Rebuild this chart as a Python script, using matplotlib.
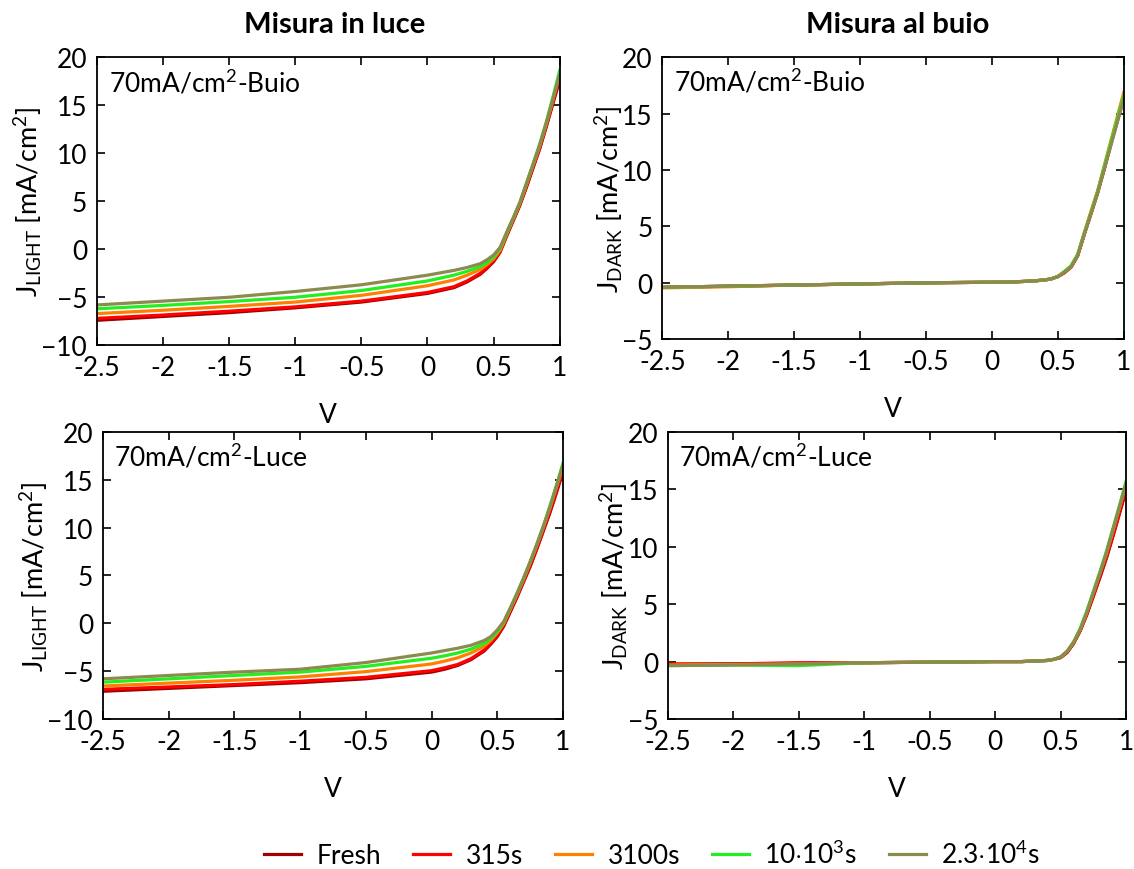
import matplotlib
matplotlib.use("Agg")
import matplotlib.pyplot as plt

plt.rcParams['font.family'] = ['Lato', 'DejaVu Sans']
plt.rcParams['mathtext.fontset'] = 'custom'
plt.rcParams['mathtext.rm'] = 'Lato'
plt.rcParams['mathtext.it'] = 'Lato'

# voltage grid (V)
V = [-2.5, -2.0, -1.5, -1.0, -0.5, 0.0, 0.1, 0.2, 0.3, 0.4, 0.45, 0.5,
     0.55, 0.6, 0.65, 0.7, 0.75, 0.8, 0.85, 0.9, 0.95, 1.0]

labels = ['Fresh', '315s', '3100s', r'10$\cdot$10$^3$s', r'2.3$\cdot$10$^4$s']
colors = ['#a00000', '#ff0000', '#ff8000', '#22ee22', '#8c8a4e']

# misura in luce, 70mA/cm2 - Buio
light_buio = [
    [-7.4, -7.0, -6.6, -6.1, -5.5, -4.6, -4.3, -4.0, -3.4, -2.6, -2.0, -1.3, -0.3, 1.4, 3.0, 4.6, 6.5, 8.5, 10.5, 12.8, 15.2, 17.6],
    [-7.2, -6.85, -6.45, -6.0, -5.4, -4.5, -4.2, -3.9, -3.3, -2.5, -1.9, -1.2, -0.2, 1.5, 3.1, 4.7, 6.6, 8.6, 10.6, 12.9, 15.4, 18.0],
    [-6.7, -6.35, -5.95, -5.5, -4.8, -3.8, -3.5, -3.2, -2.7, -2.1, -1.6, -1.0, -0.1, 1.6, 3.2, 4.8, 6.8, 8.8, 10.8, 13.1, 15.6, 18.3],
    [-6.2, -5.85, -5.45, -5.0, -4.3, -3.3, -3.0, -2.7, -2.3, -1.8, -1.4, -0.8, 0.1, 1.7, 3.3, 4.9, 6.9, 8.9, 11.0, 13.3, 15.9, 18.6],
    [-5.8, -5.4, -5.0, -4.4, -3.7, -2.7, -2.45, -2.2, -1.9, -1.5, -1.1, -0.6, 0.2, 1.8, 3.3, 4.9, 6.9, 8.9, 10.9, 13.2, 15.7, 18.2],
]

# misura in luce, 70mA/cm2 - Luce
light_luce = [
    [-7.1, -6.8, -6.5, -6.2, -5.8, -5.1, -4.8, -4.4, -3.8, -2.9, -2.2, -1.4, -0.3, 1.2, 2.7, 4.3, 5.9, 7.7, 9.6, 11.5, 13.6, 15.8],
    [-6.9, -6.65, -6.4, -6.05, -5.65, -4.95, -4.65, -4.3, -3.7, -2.8, -2.1, -1.3, -0.2, 1.3, 2.8, 4.4, 6.0, 7.8, 9.7, 11.7, 13.8, 16.0],
    [-6.55, -6.25, -5.95, -5.6, -5.05, -4.25, -3.95, -3.6, -3.1, -2.4, -1.8, -1.0, 0.0, 1.5, 3.0, 4.6, 6.3, 8.1, 10.0, 12.0, 14.2, 16.4],
    [-6.15, -5.8, -5.45, -5.1, -4.5, -3.65, -3.4, -3.1, -2.7, -2.1, -1.6, -0.9, 0.1, 1.6, 3.1, 4.7, 6.4, 8.2, 10.1, 12.2, 14.4, 16.7],
    [-5.8, -5.45, -5.1, -4.8, -4.1, -3.1, -2.85, -2.6, -2.3, -1.8, -1.4, -0.7, 0.2, 1.6, 3.1, 4.7, 6.4, 8.2, 10.1, 12.1, 14.3, 16.5],
]

# misura al buio, 70mA/cm2 - Buio
dark_buio = [
    [-0.4, -0.3, -0.2, -0.1, 0.0, 0.05, 0.05, 0.1, 0.15, 0.25, 0.35, 0.55, 0.9, 1.4, 2.4, 4.3, 6.1, 7.9, 10.0, 12.2, 14.3, 16.4],
    [-0.4, -0.3, -0.2, -0.1, 0.0, 0.05, 0.05, 0.1, 0.15, 0.25, 0.35, 0.55, 0.9, 1.4, 2.4, 4.3, 6.1, 8.0, 10.1, 12.3, 14.4, 16.5],
    [-0.45, -0.35, -0.2, -0.1, 0.0, 0.05, 0.05, 0.1, 0.15, 0.25, 0.35, 0.55, 1.0, 1.5, 2.5, 4.4, 6.3, 8.1, 10.3, 12.5, 14.7, 16.9],
    [-0.4, -0.3, -0.2, -0.1, 0.0, 0.05, 0.05, 0.1, 0.15, 0.25, 0.35, 0.55, 1.0, 1.5, 2.5, 4.4, 6.2, 8.0, 10.2, 12.4, 14.5, 16.6],
    [-0.4, -0.3, -0.2, -0.1, 0.0, 0.05, 0.05, 0.1, 0.15, 0.25, 0.35, 0.55, 0.95, 1.4, 2.4, 4.3, 6.1, 7.9, 10.0, 12.1, 14.2, 16.3],
]

# misura al buio, 70mA/cm2 - Luce
dark_luce = [
    [-0.25, -0.2, -0.15, -0.1, -0.05, 0.0, 0.0, 0.0, 0.05, 0.1, 0.2, 0.35, 0.8, 1.6, 2.7, 4.1, 5.7, 7.3, 9.0, 10.9, 12.9, 14.9],
    [-0.2, -0.2, -0.1, -0.1, -0.05, 0.0, 0.0, 0.0, 0.05, 0.1, 0.2, 0.35, 0.8, 1.6, 2.7, 4.1, 5.7, 7.4, 9.1, 11.0, 13.0, 15.0],
    [-0.3, -0.25, -0.2, -0.1, -0.05, 0.0, 0.0, 0.0, 0.05, 0.1, 0.2, 0.4, 0.9, 1.7, 2.8, 4.3, 6.0, 7.7, 9.4, 11.4, 13.4, 15.5],
    [-0.35, -0.3, -0.35, -0.1, -0.05, 0.0, 0.0, 0.0, 0.05, 0.1, 0.2, 0.4, 0.9, 1.7, 2.9, 4.4, 6.1, 7.8, 9.6, 11.6, 13.6, 15.7],
    [-0.35, -0.3, -0.2, -0.1, -0.05, 0.0, 0.0, 0.0, 0.05, 0.1, 0.2, 0.4, 0.9, 1.7, 2.8, 4.3, 6.0, 7.7, 9.5, 11.5, 13.5, 15.5],
]

fig = plt.figure(figsize=(11.34, 8.7), dpi=100)

panels = [
    ([0.0855, 0.602, 0.408, 0.331], light_buio, r'J$_{\mathrm{LIGHT}}$ [mA/cm$^2$]', r'70mA/cm$^2$-Buio', (-10, 20)),
    ([0.584, 0.609, 0.407, 0.324], dark_buio, r'J$_{\mathrm{DARK}}$ [mA/cm$^2$]', r'70mA/cm$^2$-Buio', (-5, 20)),
    ([0.0908, 0.1724, 0.4056, 0.33], light_luce, r'J$_{\mathrm{LIGHT}}$ [mA/cm$^2$]', r'70mA/cm$^2$-Luce', (-10, 20)),
    ([0.589, 0.1724, 0.404, 0.33], dark_luce, r'J$_{\mathrm{DARK}}$ [mA/cm$^2$]', r'70mA/cm$^2$-Luce', (-5, 20)),
]

axes = []
for rect, series, ylab, note, ylim in panels:
    ax = fig.add_axes(rect)
    for y, c, lab in zip(series, colors, labels):
        ax.plot(V, y, color=c, lw=2.3, label=lab)
    ax.set_xlim(-2.5, 1)
    ax.set_ylim(*ylim)
    ax.set_xticks([-2.5, -2, -1.5, -1, -0.5, 0, 0.5, 1])
    ax.set_xticklabels(['-2.5', '-2', '-1.5', '-1', '-0.5', '0', '0.5', '1'])
    ax.set_yticks(range(ylim[0], 21, 5))
    ax.tick_params(direction='in', top=True, right=True, length=6, width=1.2,
                   labelsize=19, pad=7)
    for s in ax.spines.values():
        s.set_linewidth(1.3)
    ax.set_xlabel('V', fontsize=19, labelpad=16)
    ax.set_ylabel(ylab, fontsize=19.5, labelpad=-2)
    ax.text(0.025, 0.965, note, transform=ax.transAxes, fontsize=19, va='top', ha='left')
    axes.append(ax)

fig.text(0.295, 0.971, 'Misura in luce', fontsize=21, fontweight='bold', ha='center', va='center')
fig.text(0.792, 0.971, 'Misura al buio', fontsize=21, fontweight='bold', ha='center', va='center')

handles, labs = axes[0].get_legend_handles_labels()
fig.legend(handles, labs, loc='center', bbox_to_anchor=(0.575, 0.017), ncol=5,
           frameon=False, fontsize=19, handlelength=1.4, handletextpad=0.6,
           columnspacing=1.2)

fig.savefig('out.png', dpi=100)
